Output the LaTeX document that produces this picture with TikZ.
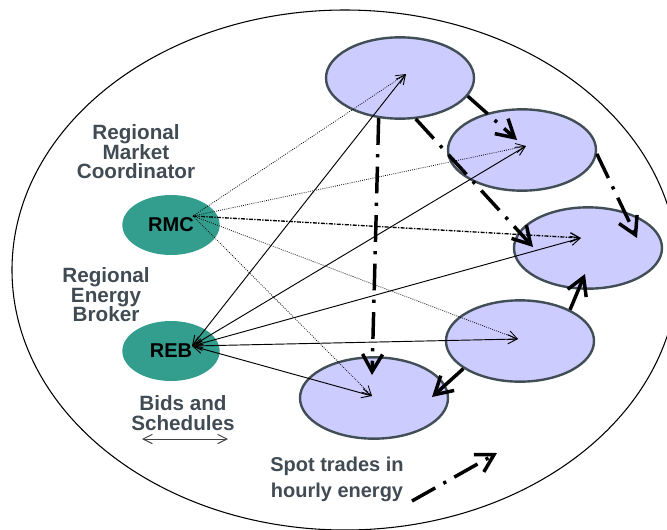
\documentclass[tikz,border=0pt]{standalone}
\usepackage{fontspec}
\setmainfont{Liberation Sans}
\usetikzlibrary{arrows.meta,shapes.geometric,calc}

\definecolor{cellfill}{RGB}{204,204,255}
\definecolor{celledge}{RGB}{66,78,86}
\definecolor{agentfill}{RGB}{51,158,142}
\definecolor{labelgrey}{RGB}{65,75,84}

\begin{document}
\begin{tikzpicture}[x=0.75pt,y=-0.75pt,
  cell/.style={ellipse,draw=celledge,fill=cellfill,line width=1.8pt,
    minimum width=111pt,minimum height=61pt,inner sep=0pt},
  agent/.style={ellipse,fill=agentfill,minimum width=73pt,minimum height=45pt,
    inner sep=0pt,font=\fontsize{15}{15}\selectfont\bfseries},
  caption/.style={text=labelgrey,align=center,inner sep=0pt,
    font=\fontsize{15.5}{14.6}\selectfont\bfseries},
  thinhead/.style={-{Straight Barb[length=7pt,width=7pt]}},
  offerline/.style={densely dotted,line width=0.6pt,thinhead},
  mainoffer/.style={dash pattern=on 3pt off 1pt on 1pt off 1pt,line width=1pt,thinhead},
  bidline/.style={line width=0.7pt,
    {Straight Barb[length=7pt,width=7pt]}-{Straight Barb[length=7pt,width=7pt]}},
  tradehead/.style={-{Straight Barb[length=13pt,width=15pt]}},
  tradeline/.style={line width=2.6pt,dash pattern=on 20pt off 7pt on 2.4pt off 7pt,tradehead},
  directtrade/.style={line width=2.6pt,tradehead}
]
\useasboundingbox (0,0) rectangle (667,529);

% region boundary
\draw[line width=0.8pt] (345,270) ellipse [x radius=249.75pt, y radius=195pt];

% market cells
\node[cell] (b1) at (400,78) {};
\node[cell] (b2) at (522,150) {};
\node[cell] (b3) at (588,248) {};
\node[cell] (b4) at (520,341) {};
\node[cell] (b5) at (374,398) {};

% coordinator and broker
\node[agent] (rmc) at (171,225) {RMC};
\node[agent] (reb) at (171,351) {REB};

\node[caption] (rmclabel) at (136,152) {Regional\\Market\\Coordinator};
\node[caption] (reblabel) at (106,295) {Regional\\Energy\\Broker};
\node[caption] (bidlabel) at (183,413) {Bids and\\Schedules};
\node[caption,font=\fontsize{15}{19.5}\selectfont\bfseries] (spotlabel) at (337,479)
  {Spot trades in\\hourly energy};

% hub points inside the nodes
\coordinate (rmchub) at ($(rmc)+(22,-9)$);
\coordinate (rebhub) at ($(reb)+(21,-5)$);
\coordinate (p1) at ($(b1)+(6,-4)$);
\coordinate (p2) at ($(b2)+(4,-4)$);
\coordinate (p3) at ($(b3)+(-7,-10)$);
\coordinate (p4) at ($(b4)+(-2,-2)$);
\coordinate (p5) at ($(b5)+(-2,-2)$);

% coordinator messages
\draw[offerline] (rmchub) -- (p1);
\draw[offerline] (rmchub) -- (p2);
\draw[mainoffer] (rmchub) -- (p3);
\draw[offerline] (rmchub) -- (p4);
\draw[offerline] (rmchub) -- (p5);

% bids and schedules
\foreach \p in {p1,p2,p3,p4,p5}
  \draw[bidline] (rebhub) -- (\p);

% spot trades between cells
\draw[tradeline] (b1.-15) -- ($(b2)+(-5,-10)$);
\draw[tradeline] (b1.-69) -- ($(b3)+(-55,-1)$);
\draw[tradeline] (b1.-118) -- ($(b5)+(-2,-23)$);
\draw[tradeline] (b2.-3) -- ($(b3)+(49,-10)$);
\draw[directtrade] (b4.32) -- ($(b3)+(-3,26)$);
\draw[directtrade] (b4.-154) -- ($(b5)+(58,-1)$);

% legend arrows
\coordinate (bidl) at (142,439);
\coordinate (bidr) at (228,439);
\draw[bidline,draw=black!75] (bidl) -- (bidr);
\coordinate (spotl) at (412,501);
\coordinate (spotr) at (497,453);
\draw[tradeline] (spotl) -- (spotr);
\end{tikzpicture}
\end{document}
